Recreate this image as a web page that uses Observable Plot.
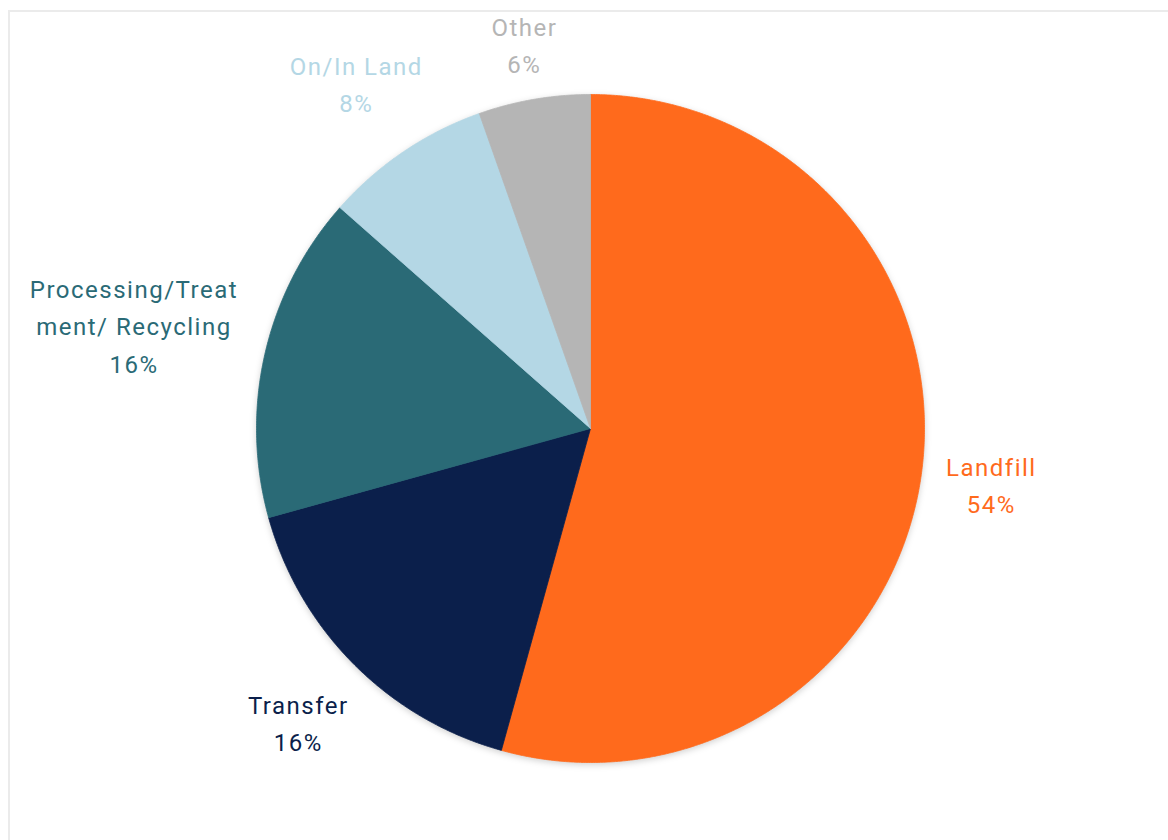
<!DOCTYPE html>
<html>
<head>
<meta charset="utf-8">
<script src="https://cdn.jsdelivr.net/npm/d3@7"></script>
<script src="https://cdn.jsdelivr.net/npm/@observablehq/plot@0.6"></script>
<style>
  html, body { margin: 0; padding: 0; background: #fff; }
  body { width: 1168px; height: 840px; position: relative; overflow: hidden; }
  #frame { position: absolute; left: 8px; top: 10px; width: 1170px; height: 840px;
           border-top: 2px solid #ebebeb; border-left: 2px solid #ebebeb; box-sizing: border-box; }
  #chart { position: absolute; left: 0; top: 0; }
</style>
</head>
<body>
<div id="frame"></div>
<div id="chart"></div>
<script>
// ---- data ----
const categories = ["Landfill", "Transfer", "Processing/Treat\nment/ Recycling", "On/In Land", "Other"];
const shares = [54.3, 16.4, 15.8, 8.1, 5.4];
const pctLabels = ["54%", "16%", "16%", "8%", "6%"];
const colors = ["#FF6A1C", "#0B1F4B", "#2A6A76", "#B4D7E5", "#B5B5B5"];

// ---- layout ----
const W = 1168, H = 840;
const cx = 590, cy = 428, R = 334;
const fontSize = 24, lineHeight = 1.55, gap = 22, letterSpacing = 1.5;

const pie = d3.pie().sort(null).value(d => d)(shares);

// slice polygons (unit circle, angle clockwise from 12 o'clock)
const slicePts = [];
pie.forEach((p, i) => {
  const cat = categories[i];
  slicePts.push({cat, x: 0, y: 0});
  const n = Math.max(2, Math.ceil((p.endAngle - p.startAngle) / 0.005));
  for (let k = 0; k <= n; k++) {
    const a = p.startAngle + (p.endAngle - p.startAngle) * k / n;
    slicePts.push({cat, x: Math.sin(a), y: Math.cos(a)});
  }
  slicePts.push({cat, x: 0, y: 0});
});

// label placement: outside end, box just clear of the circle
const ctx = document.createElement("canvas").getContext("2d");
ctx.font = `${fontSize}px Roboto`;
const labels = pie.map((p, i) => {
  const text = categories[i] + "\n" + pctLabels[i];
  const lines = text.split("\n");
  const w = d3.max(lines, l => ctx.measureText(l).width + l.length * letterSpacing);
  const h = lines.length * fontSize * lineHeight - fontSize * (lineHeight - 1);
  const a = (p.startAngle + p.endAngle) / 2;
  const ux = Math.sin(a), uy = Math.cos(a);
  const ext = Math.abs(ux) * w / 2 + Math.abs(uy) * h / 2;
  const r = (R + gap + ext) / R;
  return {cat: categories[i], text, x: ux * r, y: uy * r};
});

const chart = Plot.plot({
  width: W,
  height: H,
  margin: 0,
  x: {domain: [-cx / R, (W - cx) / R], range: [0, W], axis: null},
  y: {domain: [-(H - cy) / R, cy / R], range: [H, 0], axis: null},
  color: {domain: categories, range: colors},
  style: {fontFamily: "Roboto, sans-serif", background: "transparent"},
  marks: [
    Plot.line(slicePts, {x: "x", y: "y", z: "cat", fill: "cat", stroke: "cat", strokeWidth: 0.8, curve: "linear"}),
    Plot.text(labels, {x: "x", y: "y", text: "text", fill: "cat", fontSize, lineHeight,
                       textAnchor: "middle", lineAnchor: "middle"})
  ]
});
document.getElementById("chart").appendChild(chart);
chart.querySelectorAll('g[aria-label="text"] text').forEach(t => t.style.letterSpacing = letterSpacing + "px");
const pieG = chart.querySelector('g[aria-label="line"]');
if (pieG) pieG.style.filter = "drop-shadow(0px 2px 3px rgba(0,0,0,0.18))";
</script>
</body>
</html>
